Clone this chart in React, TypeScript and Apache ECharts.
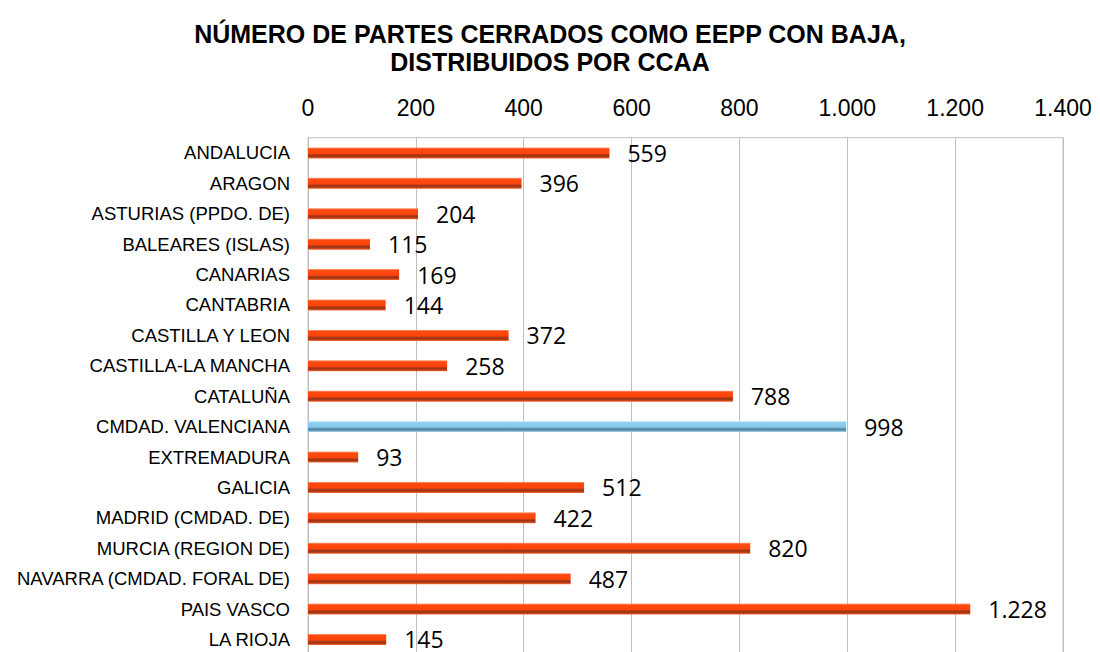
import React, { useEffect, useRef } from "react";
import * as echarts from "echarts";

const categories = [
  "ANDALUCIA",
  "ARAGON",
  "ASTURIAS (PPDO. DE)",
  "BALEARES (ISLAS)",
  "CANARIAS",
  "CANTABRIA",
  "CASTILLA Y LEON",
  "CASTILLA-LA MANCHA",
  "CATALUÑA",
  "CMDAD. VALENCIANA",
  "EXTREMADURA",
  "GALICIA",
  "MADRID (CMDAD. DE)",
  "MURCIA (REGION DE)",
  "NAVARRA (CMDAD. FORAL DE)",
  "PAIS VASCO",
  "LA RIOJA",
];
const values = [559, 396, 204, 115, 169, 144, 372, 258, 788, 998, 93, 512, 422, 820, 487, 1228, 145];
const highlighted = "CMDAD. VALENCIANA";
const titleLines = ["NÚMERO DE PARTES CERRADOS COMO EEPP CON BAJA,", "DISTRIBUIDOS POR CCAA"];

const fmt = (v: number) => String(Math.round(v)).replace(/\B(?=(\d{3})+(?!\d))/g, ".");

const orangeGrad = new echarts.graphic.LinearGradient(0, 0, 0, 1, [
  { offset: 0, color: "#FFA27A" },
  { offset: 0.14, color: "#FF4A12" },
  { offset: 0.55, color: "#FA440C" },
  { offset: 0.72, color: "#9A3418" },
  { offset: 0.86, color: "#B23A12" },
  { offset: 1, color: "#FF6A3A" },
]);
const blueGrad = new echarts.graphic.LinearGradient(0, 0, 0, 1, [
  { offset: 0, color: "#D2F0FC" },
  { offset: 0.14, color: "#8FD0F0" },
  { offset: 0.55, color: "#82C6E8" },
  { offset: 0.72, color: "#4E7E9A" },
  { offset: 0.86, color: "#6A9DBA" },
  { offset: 1, color: "#A8DCF4" },
]);

export default function App() {
  const ref = useRef<HTMLDivElement>(null);
  useEffect(() => {
    if (!ref.current) return;
    const chart = echarts.init(ref.current, undefined, { renderer: "svg" });
    chart.setOption({
      animation: false,
      backgroundColor: "#ffffff",
      title: {
        text: titleLines.join("\n"),
        left: "center",
        top: 15,
        textStyle: {
          fontFamily: "Liberation Sans, Arial, sans-serif",
          fontWeight: "bold",
          fontSize: 25,
          lineHeight: 28,
          color: "#000",
        },
      },
      grid: {
        left: 308,
        right: 37,
        top: 137.7,
        height: 517,
        show: true,
        borderColor: "#BFBFBF",
        borderWidth: 1,
        backgroundColor: "transparent",
      },
      xAxis: {
        type: "value",
        position: "top",
        min: 0,
        max: 1400,
        interval: 200,
        axisLine: { show: false },
        axisTick: { show: false },
        splitLine: { show: true, lineStyle: { color: "#BFBFBF", width: 1 } },
        axisLabel: {
          formatter: (v: number) => fmt(v),
          fontFamily: "Liberation Sans, Arial, sans-serif",
          fontSize: 23,
          color: "#000",
          margin: 18,
        },
      },
      yAxis: {
        type: "category",
        data: categories,
        inverse: true,
        axisLine: { show: true, lineStyle: { color: "#BFBFBF" } },
        axisTick: { show: false },
        axisLabel: {
          fontFamily: "Liberation Sans, Arial, sans-serif",
          fontSize: 18.5,
          color: "#000",
          margin: 18,
        },
      },
      series: [
        {
          type: "bar",
          barWidth: 11,
          data: values.map((v, i) => ({
            value: v,
            itemStyle: { color: categories[i] === highlighted ? blueGrad : orangeGrad },
          })),
          label: {
            show: true,
            position: "right",
            distance: 18,
            formatter: (p: any) => fmt(p.value),
            fontFamily: "Open Sans, sans-serif",
            fontSize: 23,
            color: "#000",
          },
        },
      ],
    });
    return () => chart.dispose();
  }, []);
  return (
    <div
      ref={ref}
      style={{ position: "fixed", left: 0, top: 0, width: 1100, height: 660 }}
    />
  );
}
